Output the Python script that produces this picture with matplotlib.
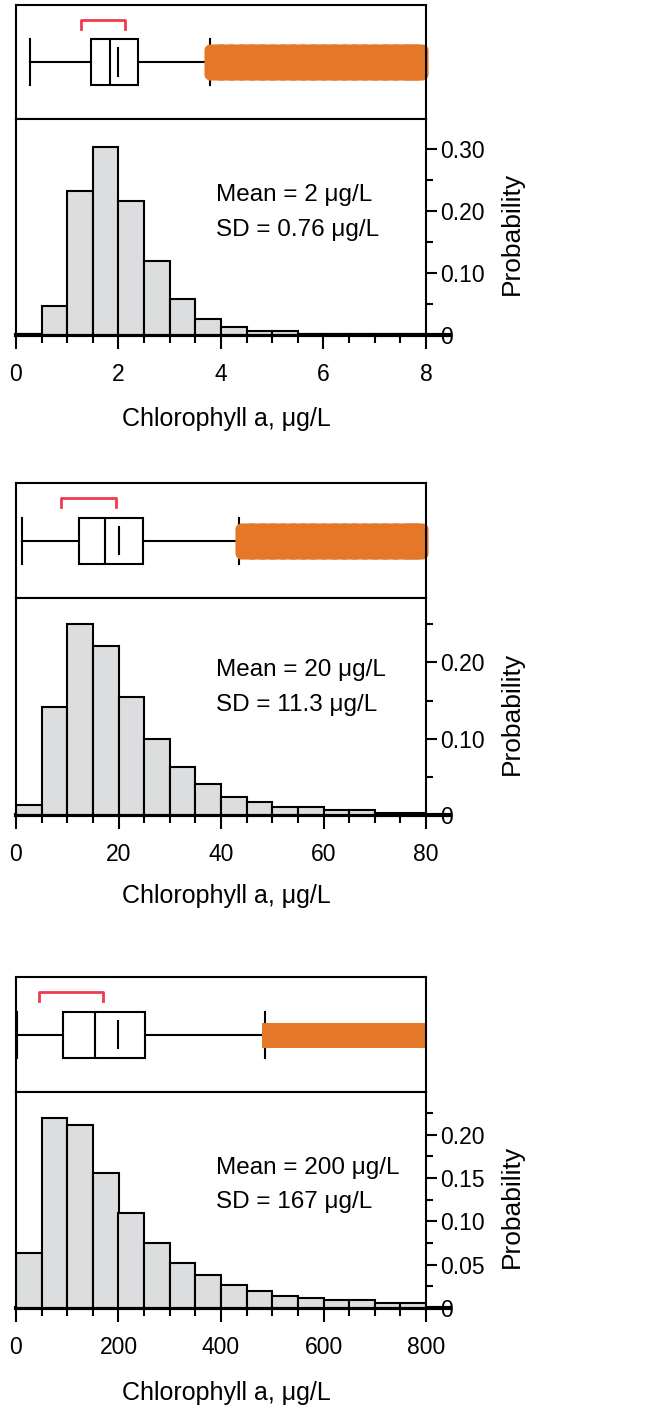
import matplotlib.pyplot as plt
import numpy as np
from matplotlib.path import Path
from matplotlib.ticker import MultipleLocator, FuncFormatter

plt.rcParams['font.family'] = ['Liberation Sans', 'DejaVu Sans']

gray = '#dcdddf'
orange = '#e57728'
red = '#ef3a4f'

# histogram bin edges and probabilities
edges_a = [0, 0.5, 1, 1.5, 2, 2.5, 3, 3.5, 4, 4.5, 5, 5.5, 6, 6.5, 7, 7.5, 8]
probs_a = [0.002, 0.047, 0.233, 0.304, 0.216, 0.119, 0.058, 0.026,
           0.0135, 0.0065, 0.0065, 0.001, 0.001, 0.001, 0.001, 0.001]

edges_b = [0, 5, 10, 15, 20, 25, 30, 35, 40, 45, 50, 55, 60, 65, 70, 75, 80]
probs_b = [0.013, 0.142, 0.251, 0.221, 0.155, 0.099, 0.063, 0.041,
           0.023, 0.017, 0.010, 0.010, 0.0066, 0.0066, 0.003, 0.003]

edges_c = [0, 50, 100, 150, 200, 250, 300, 350, 400, 450, 500, 550, 600, 650, 700, 750, 800]
probs_c = [0.064, 0.220, 0.211, 0.156, 0.110, 0.075, 0.052, 0.038,
           0.026, 0.020, 0.014, 0.011, 0.009, 0.009, 0.006, 0.006]

# box plot summaries
box_a = dict(whislo=0.27, q1=1.46, med=1.84, q3=2.39, whishi=3.79, mean=2.0)
box_b = dict(whislo=1.1, q1=12.3, med=17.4, q3=24.8, whishi=43.6, mean=20.0)
box_c = dict(whislo=2.5, q1=91.7, med=154.8, q3=251.0, whishi=486.5, mean=200.0)

bracket_a = [1.27, 2.13]
bracket_b = [8.8, 19.6]
bracket_c = [45.5, 170.4]

out_a = [3.9, 4.1, 4.3, 4.5, 4.7, 4.9, 5.1, 5.3, 5.5, 5.7, 5.9, 6.1, 6.3, 6.5,
         6.7, 6.9, 7.1, 7.3, 7.5, 7.7, 7.8]
out_b = [45, 47, 49, 51, 53, 55, 57, 59, 61, 63, 65, 67, 69, 71, 73, 75, 77, 78]
out_c = [492, 510, 530, 550, 570, 590, 610, 630, 650, 670, 690, 710, 730, 750,
         770, 790, 800]

notes = [('Mean = 2 \u03bcg/L', 'SD = 0.76 \u03bcg/L'),
         ('Mean = 20 \u03bcg/L', 'SD = 11.3 \u03bcg/L'),
         ('Mean = 200 \u03bcg/L', 'SD = 167 \u03bcg/L')]


def bar_marker(w, h, r):
    # tall rectangle with rounded corners, used for the outlier band
    pts = []
    corners = [(w / 2 - r, h / 2 - r, 0), (-w / 2 + r, h / 2 - r, 90),
               (-w / 2 + r, -h / 2 + r, 180), (w / 2 - r, -h / 2 + r, 270)]
    for cx, cy, a0 in corners:
        t = np.radians(np.linspace(a0, a0 + 90, 8))
        pts += list(zip(cx + r * np.cos(t), cy + r * np.sin(t)))
    pts.append(pts[0])
    return Path(pts, closed=True)


fig = plt.figure(figsize=(6.58, 14.11), dpi=100)
W, H = 658.0, 1411.0
left, width = 16 / W, 410 / W

panels = [
    dict(edges=edges_a, probs=probs_a, box=box_a, bracket=bracket_a, out=out_a,
         box_px=(5, 119), hist_px=(119, 335), ytop=0.3486, ymaj=0.1, ymin=0.05,
         xmaj=2, marker=bar_marker(24, 36, 6), ms=26, clip=False,
         text_y=(0.62, 0.457), xlab_y=-0.419),
    dict(edges=edges_b, probs=probs_b, box=box_b, bracket=bracket_b, out=out_b,
         box_px=(483, 598), hist_px=(598, 815), ytop=0.2845, ymaj=0.1, ymin=0.05,
         xmaj=20, marker=bar_marker(24, 36, 6), ms=26, clip=False,
         text_y=(0.641, 0.479), xlab_y=-0.406),
    dict(edges=edges_c, probs=probs_c, box=box_c, bracket=bracket_c, out=out_c,
         box_px=(977, 1092), hist_px=(1092, 1308), ytop=0.2495, ymaj=0.05, ymin=0.025,
         xmaj=200, marker=bar_marker(12, 25, 0), ms=18, clip=True,
         text_y=(0.620, 0.462), xlab_y=-0.426),
]

for i, p in enumerate(panels):
    edges = np.array(p['edges'], dtype=float)
    xmax = edges[-1]
    binw = edges[1] - edges[0]

    # ---- box plot axes
    t, b = p['box_px']
    axb = fig.add_axes([left, 1 - b / H, width, (b - t) / H])
    st = dict(p['box'])
    st['fliers'] = p['out']
    axb.bxp([st], positions=[1], widths=0.4, orientation='horizontal',
            showfliers=True, patch_artist=True, capwidths=[0.4],
            boxprops=dict(facecolor='white', edgecolor='black', linewidth=1.5),
            whiskerprops=dict(color='black', linewidth=1.5),
            capprops=dict(color='black', linewidth=1.5),
            medianprops=dict(color='black', linewidth=1.5),
            flierprops=dict(marker=p['marker'], markersize=p['ms'],
                            markerfacecolor=orange, markeredgecolor=orange,
                            markeredgewidth=0, linestyle='none', clip_on=p['clip']))
    m = p['box']['mean']
    axb.plot([m, m], [0.88, 1.12], color='black', lw=1.5)
    b0, b1 = p['bracket']
    axb.plot([b0, b0, b1, b1], [1.29, 1.37, 1.37, 1.29], color=red, lw=2)
    axb.set_xlim(0, xmax)
    axb.set_ylim(0.5, 1.5)
    axb.set_xticks([])
    axb.set_yticks([])
    for s in axb.spines.values():
        s.set_linewidth(1.5)

    # ---- histogram axes
    t, b = p['hist_px']
    ax = fig.add_axes([left, 1 - b / H, width, (b - t) / H])
    ax.plot([0, 1.055], [0, 0], transform=ax.get_yaxis_transform(),
            color='black', lw=3, clip_on=False, zorder=1.5)
    ax.bar(edges[:-1], p['probs'], width=np.diff(edges), align='edge',
           color=gray, edgecolor='black', linewidth=1.5, zorder=2)
    ax.set_xlim(0, xmax)
    ax.set_ylim(0, p['ytop'])
    for s in ax.spines.values():
        s.set_linewidth(1.5)

    ax.xaxis.set_major_locator(MultipleLocator(p['xmaj']))
    ax.xaxis.set_minor_locator(MultipleLocator(binw))
    ax.yaxis.set_major_locator(MultipleLocator(p['ymaj']))
    ax.yaxis.set_minor_locator(MultipleLocator(p['ymin']))
    ax.yaxis.set_major_formatter(FuncFormatter(lambda v, _: '0' if abs(v) < 1e-9 else f'{v:.2f}'))

    ax.tick_params(axis='x', which='both', direction='out', bottom=True, top=False, width=1.5)
    ax.tick_params(axis='x', which='major', length=10, pad=10, labelsize=16.5)
    ax.tick_params(axis='x', which='minor', length=5.5)
    ax.tick_params(axis='y', which='both', direction='out', left=False, right=True,
                   labelleft=False, labelright=True, width=1.5)
    ax.tick_params(axis='y', which='major', length=8, pad=2, labelsize=16.5)
    ax.tick_params(axis='y', which='minor', length=5)

    ax.yaxis.set_label_position('right')
    ax.set_ylabel('Probability', fontsize=19)
    ax.yaxis.set_label_coords(1.18, 0.47)

    l1, l2 = notes[i]
    ax.text(0.488, p['text_y'][0], l1, transform=ax.transAxes, fontsize=17.5, va='baseline')
    ax.text(0.488, p['text_y'][1], l2, transform=ax.transAxes, fontsize=17.5, va='baseline')
    ax.text(0.514, p['xlab_y'], 'Chlorophyll a, \u03bcg/L', transform=ax.transAxes,
            fontsize=18, ha='center', va='baseline')

fig.savefig('out.png', dpi=100)
